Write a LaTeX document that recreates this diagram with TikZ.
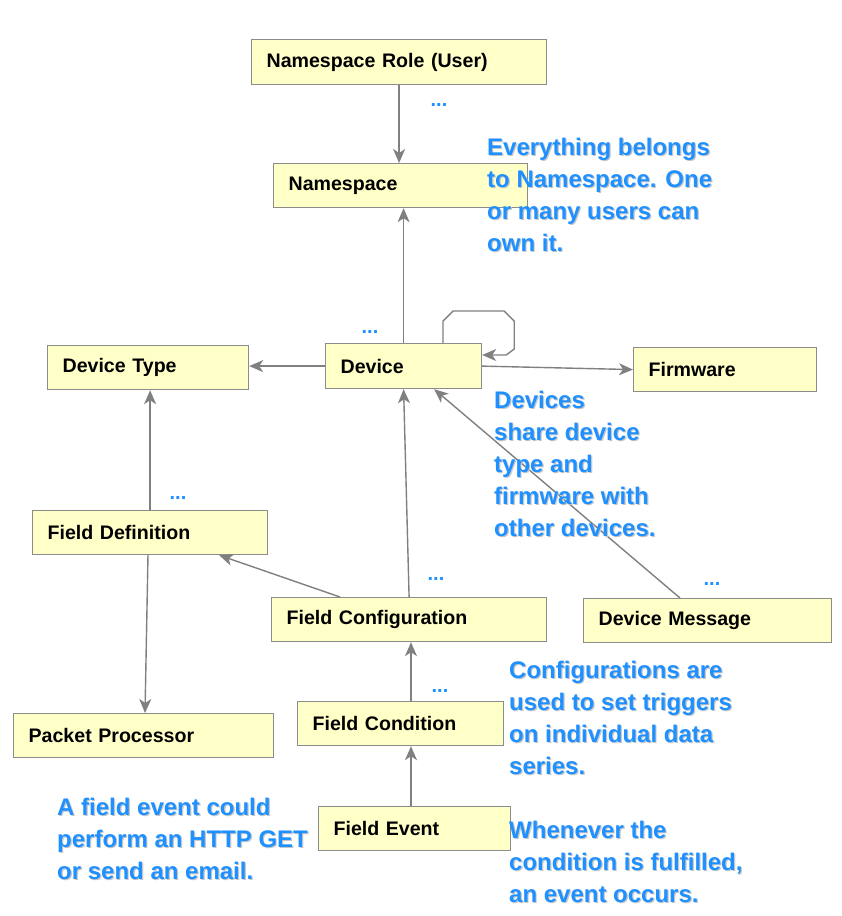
\documentclass[tikz,border=0pt]{standalone}
\usepackage{fontspec}
\setmainfont{Liberation Sans}
\usetikzlibrary{arrows.meta,calc}
\definecolor{boxfill}{RGB}{255,255,200}
\definecolor{boxline}{RGB}{140,140,140}
\definecolor{arr}{RGB}{128,128,128}
\definecolor{note}{RGB}{30,144,255}
\tikzset{
  box/.style={draw=boxline, fill=boxfill, line width=1.2pt, inner xsep=15pt, inner ysep=0pt,
     align=left, anchor=north west, font=\fontsize{19.6}{22}\selectfont\bfseries, text=black},
  conn/.style={draw=arr, line width=1.4pt, -{Stealth[length=14pt,width=12pt,inset=4pt]}},
  notebox/.style={anchor=base west, inner sep=0pt, align=left, text=note,
     font=\fontsize{24}{32}\selectfont\bfseries},
  noteshadow/.style={notebox, text=black!22},
  dots/.style={inner sep=0pt, text=note, font=\fontsize{20}{20}\selectfont\bfseries}
}
% #1,#2: position of the LAST line's baseline
\newcommand{\mynote}[3]{%
  \node[noteshadow] at ($(#1,#2)+(1.2,1.2)$) {#3};
  \node[notebox] (#1n#2) at (#1,#2) {#3};}
\begin{document}
\begin{tikzpicture}[x=1pt,y=-1pt]
\useasboundingbox (0,0) rectangle (842,916);
\fill[white] (0,0) rectangle (842,916);

% boxes: text width = W - 30, minimum height = H
\node[box, text width=265pt, minimum height=45pt] (role) at (251,39) {Namespace Role (User)};
\node[box, text width=224pt, minimum height=44pt] (ns) at (273,163) {Namespace};
\node[box, text width=171pt, minimum height=44pt] (dt) at (47,345) {Device Type};
\node[box, text width=126pt, minimum height=45pt] (dev) at (325,343) {Device};
\node[box, text width=153pt, minimum height=44pt] (fw) at (633,347) {Firmware};
\node[box, text width=205pt, minimum height=44pt] (fd) at (32,510) {Field Definition};
\node[box, text width=245pt, minimum height=44pt] (fc) at (271,597) {Field Configuration};
\node[box, text width=218pt, minimum height=44pt] (dm) at (583,598) {Device Message};
\node[box, text width=230pt, minimum height=44pt] (pp) at (13,713) {Packet Processor};
\node[box, text width=176pt, minimum height=44pt] (fcond) at (297,701) {Field Condition};
\node[box, text width=162pt, minimum height=44pt] (fe) at (318,806) {Field Event};

% connectors
\draw[conn] (role.south) -- (role.south |- ns.north);
\draw[conn] (dev.north) -- (dev.north |- ns.south);
\draw[conn] (dev.west) -- (dev.west -| dt.east);
\draw[conn] (dev.east) -- (fw.west);
\coordinate (l0) at ($(dev.north west)+(118,0)$);
\coordinate (l1) at ($(dev.north west)+(118,-22)$);
\coordinate (l2) at ($(dev.north west)+(128,-32)$);
\coordinate (l3) at ($(dev.north east)+(22,-32)$);
\coordinate (l4) at ($(dev.north east)+(32,-22)$);
\coordinate (l5) at ($(dev.north east)+(32,6)$);
\coordinate (l6) at ($(dev.north east)+(24,12)$);
\coordinate (l7) at ($(dev.north east)+(0,12)$);
\draw[conn] (l0) -- (l1) -- (l2) -- (l3) -- (l4) -- (l5) -- (l6) -- (l7);
\draw[conn] (fd.north) -- (fd.north |- dt.south);
\draw[conn] (fc.north) -- (dev.south);
\draw[conn] ($(dm.north west)+(97,0)$) -- ($(dev.south east)+(-48,0)$);
\draw[conn] ($(fc.north west)+(69,0)$) -- ($(fd.south east)+(-49,0)$);
\draw[conn] ($(fd.south west)+(116,0)$) -- ($(pp.north west)+(132,0)$);
\coordinate (c1) at ($(fcond.north west)+(114,0)$);
\draw[conn] (c1) -- (c1 |- fc.south);
\coordinate (e1) at ($(fe.north west)+(93,0)$);
\draw[conn] (e1) -- (e1 |- fcond.south);

% ellipsis labels
\node[dots] (d1) at (439,105) {...};
\node[dots] (d2) at (370,332) {...};
\node[dots] (d3) at (178,498) {...};
\node[dots] (d4) at (436,579) {...};
\node[dots] (d5) at (712,584) {...};
\node[dots] (d6) at (440,691) {...};

% annotations
\mynote{487}{251}{Everything belongs\\to Namespace. One\\or many users can\\own it.}
\mynote{494}{536}{Devices\\share device\\type and\\firmware with\\other devices.}
\mynote{509}{774}{Configurations are\\used to set triggers\\on individual data\\series.}
\mynote{57}{879}{A field event could\\perform an HTTP GET\\or send an email.}
\mynote{509}{902}{Whenever the\\condition is fulfilled,\\an event occurs.}
\end{tikzpicture}
\end{document}
